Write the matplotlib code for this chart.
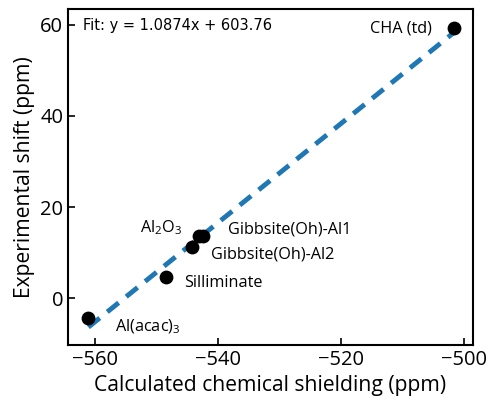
import numpy as np
import matplotlib
matplotlib.use("Agg")
from matplotlib import pyplot as plt

plt.rcParams['mathtext.fontset'] = 'custom'
plt.rcParams['mathtext.rm'] = 'Open Sans'
plt.rcParams['mathtext.it'] = 'Open Sans:italic'

names = ["Al(acac)$_3$", "Silliminate", "Gibbsite(Oh)-Al2", "Al$_2$O$_3$", "Gibbsite(Oh)-Al1", "CHA (td)"]
calc = [-561.1, -548.5, -544.3, -543.1, -542.4, -501.5]
expt = [-4.4, 4.6, 11.3, 13.6, 13.6, 59.3]
slope = 1.0874
icept = 603.76

fig = plt.figure(figsize=(4.9, 4.0), dpi=100)
ax = fig.add_axes([0.139, 0.1375, 0.826, 0.84])

xs = np.array([min(calc), max(calc)])
ax.plot(xs, slope*xs + icept, '--', color='#1f77b4', lw=3.5, dashes=(3, 2), zorder=1)
ax.scatter(calc, expt, s=80, color='black', zorder=2)

offs = [(19, -6, 'left'), (13, -4, 'left'), (14, -6, 'left'), (-12, 6, 'right'), (18, 5, 'left'), (-16, 0, 'right')]
for n, x, y, (dx, dy, ha) in zip(names, calc, expt, offs):
    ax.annotate(n, (x, y), xytext=(dx, dy), textcoords='offset points', ha=ha, va='center',
                fontsize=11.7, family='Open Sans')

ax.text(0.037, 0.952, "Fit: y = 1.0874x + 603.76", transform=ax.transAxes, fontsize=10.5, va='center')

ax.set_xlim(-564.4, -498.5)
ax.set_ylim(-10.3, 63.5)
ax.set_xticks([-560, -540, -520, -500])
ax.set_yticks([0, 20, 40, 60])
ax.tick_params(direction='in', labelsize=14.5, width=1.2, length=5)
for lab in ax.get_xticklabels() + ax.get_yticklabels():
    lab.set_family('Open Sans')
for s in ax.spines.values():
    s.set_linewidth(1.5)
ax.set_xlabel("Calculated chemical shielding (ppm)", fontsize=15.2, family='Open Sans')
ax.set_ylabel("Experimental shift (ppm)", fontsize=15.2, family='Open Sans')

fig.savefig("out.png", dpi=100)
